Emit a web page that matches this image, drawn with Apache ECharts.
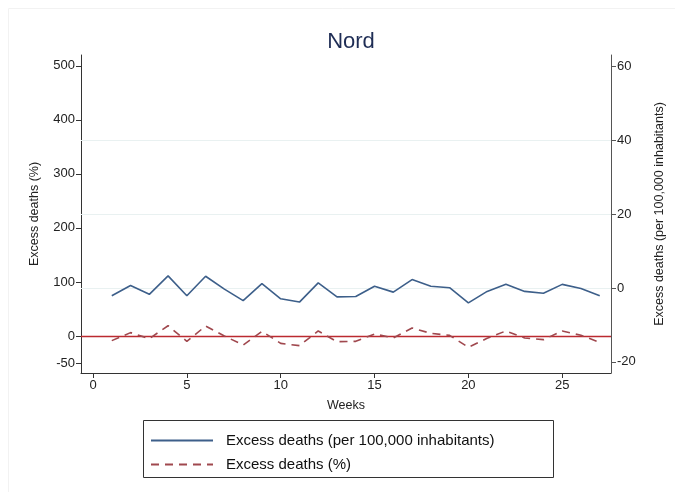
<!DOCTYPE html>
<html>
<head>
<meta charset="utf-8">
<script src="https://cdn.jsdelivr.net/npm/echarts@6/dist/echarts.min.js"></script>
<style>html,body{margin:0;padding:0;background:#fff}#c{width:675px;height:492px}</style>
</head>
<body>
<div id="c"></div>
<script>
var weeks = [1,2,3,4,5,6,7,8,9,10,11,12,13,14,15,16,17,18,19,20,21,22,23,24,25,26,27];
var perInhabitants = [-2.1,0.7,-1.7,3.3,-2.1,3.2,-0.3,-3.4,1.2,-2.9,-3.8,1.4,-2.4,-2.3,0.5,-1.1,2.3,0.5,0.1,-4.0,-0.9,1.0,-0.9,-1.4,1.0,-0.1,-2.1];
var percent = [-8.6,6.2,-4.9,19.0,-9.9,18.5,0.0,-16.7,8.6,-13.6,-17.9,9.3,-10.5,-9.9,3.7,-3.7,14.8,4.9,1.2,-21.0,-4.3,9.3,-3.7,-6.8,9.3,1.2,-11.7];
var xTicks = [0,5,10,15,20,25];
var leftTicks = [-50,0,100,200,300,400,500];
var rightTicks = [-20,0,20,40,60];
var rightGrid = [0,20,40];

var font = 'Liberation Sans, Arial, Helvetica, sans-serif';
var axisCol = '#333';
var chart = echarts.init(document.getElementById('c'), null, {renderer:'canvas'});

function pairs(vals){ return weeks.map(function(w,i){ return [w, vals[i]]; }); }

chart.setOption({
  animation:false,
  backgroundColor:'#fff',
  title:{text:'Nord', left:346, top:26, textAlign:'center',
    textStyle:{fontFamily:font, fontSize:22, fontWeight:'normal', color:'#1f2d55'}},
  grid:{left:81, right:64, top:55, bottom:119, containLabel:false},
  legend:{
    orient:'vertical', left:145, top:428, itemWidth:62, itemHeight:10, itemGap:9,
    itemStyle:{opacity:0},
    textStyle:{fontFamily:font, fontSize:15, color:'#111', padding:[0,0,0,8]},
    data:['Excess deaths (per 100,000 inhabitants)','Excess deaths (%)']
  },
  graphic:[
    {type:'rect', shape:{x:143.5,y:420.5,width:410,height:57}, style:{fill:'none', stroke:'#333', lineWidth:1}, silent:true},
    {type:'rect', shape:{x:8.5,y:8.5,width:700,height:500}, style:{fill:'none', stroke:'#f2f2f2', lineWidth:1}, silent:true}
  ],
  xAxis:{
    type:'value', min:-0.64, max:27.6,
    name:'Weeks', nameLocation:'middle', nameGap:26,
    nameTextStyle:{fontFamily:font, fontSize:12.5, color:'#222'},
    axisLine:{show:true, onZero:false, lineStyle:{color:axisCol, width:1}},
    axisTick:{show:true, inside:false, length:5, customValues:xTicks, lineStyle:{color:axisCol}},
    axisLabel:{customValues:xTicks, fontFamily:font, fontSize:13, color:'#222', margin:6},
    splitLine:{show:false}
  },
  yAxis:[
    {
      type:'value', position:'left', min:-68.5, max:520,
      name:'Excess deaths (%)', nameLocation:'middle', nameGap:40,
      nameTextStyle:{fontFamily:font, fontSize:12.5, color:'#222'},
      axisLine:{show:true, onZero:false, lineStyle:{color:axisCol}},
      axisTick:{show:true, inside:false, length:5, customValues:leftTicks, lineStyle:{color:axisCol}},
      axisLabel:{customValues:leftTicks, fontFamily:font, fontSize:13, color:'#222', margin:6},
      splitLine:{show:false}
    },
    {
      type:'value', position:'right', min:-23, max:63.1,
      name:'Excess deaths (per 100,000 inhabitants)', nameLocation:'middle', nameGap:42,
      nameTextStyle:{fontFamily:font, fontSize:12.5, color:'#222'},
      axisLine:{show:true, onZero:false, lineStyle:{color:'#555'}},
      axisTick:{show:true, inside:false, length:5, customValues:rightTicks, lineStyle:{color:'#555'}},
      axisLabel:{customValues:rightTicks, fontFamily:font, fontSize:13, color:'#222', margin:6},
      splitLine:{show:false}
    }
  ],
  series:[
    {
      name:'Excess deaths (per 100,000 inhabitants)', type:'line', yAxisIndex:1, z:3,
      data:pairs(perInhabitants), symbol:'none', showSymbol:false,
      lineStyle:{color:'#3d5f8a', width:1.6}, itemStyle:{color:'#3d5f8a'},
      markLine:{silent:true, symbol:'none', label:{show:false}, z:1,
        lineStyle:{color:'#e9f1f1', width:1.2, type:'solid'},
        data:rightGrid.map(function(v){return {yAxis:v};})}
    },
    {
      name:'Excess deaths (%)', type:'line', yAxisIndex:0, z:3,
      data:pairs(percent), symbol:'none', showSymbol:false,
      lineStyle:{color:'#a0484e', width:1.6, type:[8,6]}, itemStyle:{color:'#a0484e'},
      markLine:{silent:true, symbol:'none', label:{show:false}, z:2,
        lineStyle:{color:'#bb2a30', width:1.3, type:'solid'},
        data:[{yAxis:0}]}
    }
  ]
});
</script>
</body>
</html>
